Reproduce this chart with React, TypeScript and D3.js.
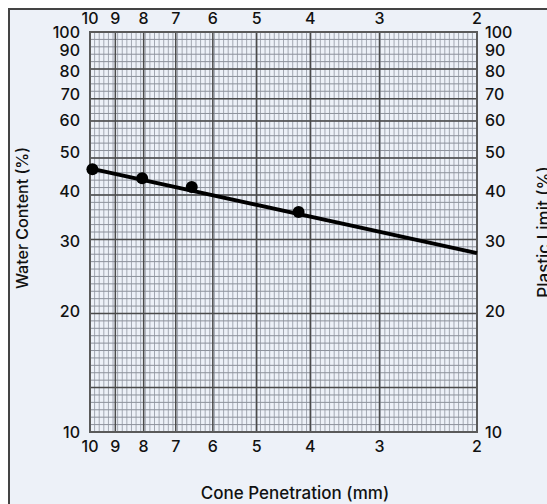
import React from "react";
import * as d3 from "d3";

// Cone penetration test: water content vs. penetration depth (log–log paper)
const penetrationTicks = [10, 9, 8, 7, 6, 5, 4, 3, 2];
const waterTicks = [100, 90, 80, 70, 60, 50, 40, 30, 20, 10];

// Measured points
const penetration = [9.9, 8.05, 6.55, 4.2];
const waterContent = [45.4, 43.1, 41.0, 35.5];

// Flow line drawn across the sheet
const flowPenetration = [10, 2];
const flowWater = [45.6, 28.0];

// Paper ruling: horizontal cells and the heavier rulings among them
const rowCells = 54;
const rowMajors = [5, 9, 12, 17, 22, 28, 38, 48];
const colCells = 84;

const W = 539;
const H = 496;
// layout in page coordinates (the svg sits inside the 8px body margin)
const left = 90;
const right = 477;
const top = 32;
const bottom = 432;
const font = "Inter, Lato, 'DejaVu Sans', sans-serif";
const fs = 16;

export default function App() {
  const x = d3.scaleLog().domain([10, 2]).range([left, right]);
  const y = d3.scaleLog().domain([10, 100]).range([bottom, top]);
  const rowScale = d3.scaleLinear().domain([0, rowCells]).range([top, bottom]);
  const colScale = d3.scaleLinear().domain([0, colCells]).range([left, right]);

  const pts = penetration.map((p, i) => [p, waterContent[i]] as [number, number]);
  const flow = flowPenetration.map((p, i) => [p, flowWater[i]] as [number, number]);
  const line = d3
    .line<[number, number]>()
    .x((d) => x(d[0]))
    .y((d) => y(d[1]));

  return (
    <svg
      width={W}
      height={H}
      style={{ display: "block", position: "absolute", left: 8, top: 8 }}
      fontFamily={font}
    >
      <g transform="translate(-8,-8)">
        <rect x={9} y={9} width={W + 40} height={H + 40} fill="#edf1f8" stroke="#444" strokeWidth={2} />

        {/* fine ruling */}
        {d3.range(1, colCells).map((c) => (
          <line key={"vc" + c} x1={colScale(c)} x2={colScale(c)} y1={top} y2={bottom} stroke="#a3a8b2" strokeWidth={1} />
        ))}
        {d3.range(1, rowCells).map((r) => (
          <line key={"hr" + r} x1={left} x2={right} y1={rowScale(r)} y2={rowScale(r)} stroke="#8c919b" strokeWidth={1} />
        ))}

        {/* heavy ruling */}
        {penetrationTicks.slice(1, -1).map((t) => (
          <line key={"vm" + t} x1={x(t)} x2={x(t)} y1={top} y2={bottom} stroke="#4a4a4a" strokeWidth={1.5} />
        ))}
        {rowMajors.map((r) => (
          <line key={"hm" + r} x1={left} x2={right} y1={rowScale(r)} y2={rowScale(r)} stroke="#4a4a4a" strokeWidth={1.5} />
        ))}
        <rect x={left} y={top} width={right - left} height={bottom - top} fill="none" stroke="#5a5a5a" strokeWidth={2} />

        {/* flow line and points */}
        <path d={line(flow) || ""} fill="none" stroke="#000" strokeWidth={4} />
        {pts.map((d, i) => (
          <circle key={"p" + i} cx={x(d[0])} cy={y(d[1])} r={6} fill="#000" />
        ))}

        {/* penetration labels, top and bottom */}
        {penetrationTicks.map((t) => (
          <text key={"xt" + t} x={x(t)} y={23.5} textAnchor="middle" fontSize={fs} fontWeight={500} fill="#111">
            {t}
          </text>
        ))}
        {penetrationTicks.map((t) => (
          <text key={"xb" + t} x={x(t)} y={452} textAnchor="middle" fontSize={fs} fontWeight={500} fill="#111">
            {t}
          </text>
        ))}

        {/* water content labels, left and right */}
        {waterTicks.map((t) => (
          <text key={"yl" + t} x={80} y={y(t)} dy="0.36em" textAnchor="end" fontSize={fs} fontWeight={500} fill="#111">
            {t}
          </text>
        ))}
        {waterTicks.map((t) => (
          <text key={"yr" + t} x={485} y={y(t)} dy="0.36em" textAnchor="start" fontSize={fs} fontWeight={500} fill="#111">
            {t}
          </text>
        ))}

        <text x={295} y={499} textAnchor="middle" fontSize={17} fontWeight={500} fill="#111">
          Cone Penetration (mm)
        </text>
        <text transform="translate(28,218) rotate(-90)" textAnchor="middle" fontSize={fs} fontWeight={500} fill="#111">
          Water Content (%)
        </text>
        <text transform="translate(550,232) rotate(-90)" textAnchor="middle" fontSize={17} fontWeight={500} fill="#111">
          Plastic Limit (%)
        </text>
      </g>
    </svg>
  );
}
